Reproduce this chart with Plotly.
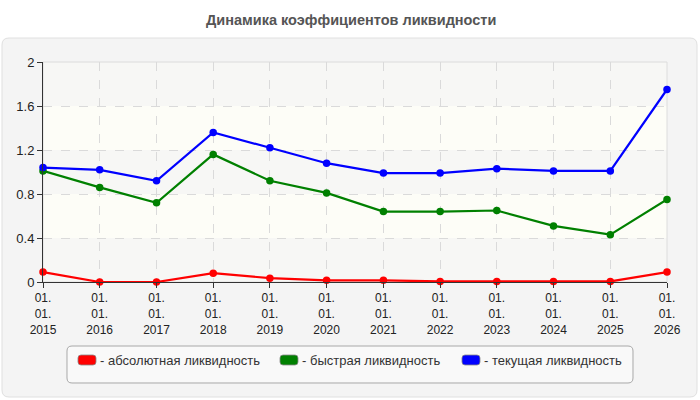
import plotly.graph_objects as go

years = [2015, 2016, 2017, 2018, 2019, 2020, 2021, 2022, 2023, 2024, 2025, 2026]
dates = [f"{y}-01-01" for y in years]
tick_labels = [f"01.<br>01.<br>{y}" for y in years]

absolute = [0.09, 0.0, 0.0, 0.08, 0.035, 0.015, 0.015, 0.005, 0.005, 0.005, 0.005, 0.09]
quick = [1.01, 0.86, 0.72, 1.16, 0.92, 0.81, 0.64, 0.64, 0.65, 0.51, 0.43, 0.75]
current = [1.04, 1.02, 0.92, 1.36, 1.22, 1.08, 0.99, 0.99, 1.03, 1.01, 1.01, 1.75]

names = ["- абсолютная ликвидность", "- быстрая ликвидность", "- текущая ликвидность"]
colors = ["#ff0000", "#008000", "#0000ff"]
series = [absolute, quick, current]

W, H = 700, 400
L, R, T, B = 43, 667, 62, 282

def fx(px):
    return (px - L) / (R - L)

def fy(py):
    return (B - py) / (B - T)

def rrect(x0, y0, x1, y1, r):
    def p(x, y):
        return f"{fx(x):.5f},{fy(y):.5f}"
    return (f"M{p(x0 + r, y0)} L{p(x1 - r, y0)} Q{p(x1, y0)} {p(x1, y0 + r)} "
            f"L{p(x1, y1 - r)} Q{p(x1, y1)} {p(x1 - r, y1)} L{p(x0 + r, y1)} "
            f"Q{p(x0, y1)} {p(x0, y1 - r)} L{p(x0, y0 + r)} Q{p(x0, y0)} {p(x0 + r, y0)} Z")

fig = go.Figure()
for vals, name, col in zip(series, names, colors):
    fig.add_trace(go.Scatter(
        x=dates, y=vals, mode="lines+markers", name=name,
        line=dict(color=col, width=2.2),
        marker=dict(color=col, size=7.5, symbol="circle"),
        showlegend=False, cliponaxis=False,
    ))

shapes = []
# outer panel
shapes.append(dict(type="path", xref="paper", yref="paper", path=rrect(2, 38, 697, 397, 7),
                   fillcolor="#f4f4f4", line=dict(color="#e0e0e0", width=1), layer="below"))
# background bands
bands = [(0, 0.4, "#f7f7f5"), (0.4, 0.8, "#fdfdf7"), (0.8, 1.2, "#f7f7f5"),
         (1.2, 1.6, "#fdfdf7"), (1.6, 2.0, "#f7f7f5")]
for y0, y1, c in bands:
    shapes.append(dict(type="rect", xref="paper", yref="y", x0=0, x1=1, y0=y0, y1=y1,
                       fillcolor=c, line=dict(width=0), layer="below"))
# plot border
shapes.append(dict(type="rect", xref="paper", yref="paper", x0=0, x1=1, y0=0, y1=1,
                   fillcolor="rgba(0,0,0,0)", line=dict(color="#dcdcdc", width=1), layer="below"))
# legend box
shapes.append(dict(type="path", xref="paper", yref="paper", path=rrect(67, 346, 633, 383, 5),
                   fillcolor="#f9f9f9", line=dict(color="#a8a8a8", width=1), layer="above"))

annotations = [dict(text="<b>Динамика коэффициентов ликвидности</b>", xref="paper", yref="paper",
                    x=fx(351), y=fy(20), xanchor="center", yanchor="middle", showarrow=False,
                    font=dict(family="Liberation Sans, Arial", size=14.5, color="#555555"))]

sw_x = [78, 280, 462]
for sx, name, col in zip(sw_x, names, colors):
    shapes.append(dict(type="path", xref="paper", yref="paper", path=rrect(sx, 355, sx + 18, 365, 3),
                       fillcolor=col, line=dict(color="#888888", width=0.8), layer="above"))
    annotations.append(dict(text=name, xref="paper", yref="paper", x=fx(sx + 20), y=fy(360),
                            xanchor="left", yanchor="middle", showarrow=False,
                            font=dict(family="Liberation Sans, Arial", size=13, color="#333333")))

fig.update_layout(
    width=W, height=H,
    margin=dict(l=L, r=W - R, t=T, b=H - B, pad=0),
    paper_bgcolor="white", plot_bgcolor="rgba(0,0,0,0)",
    shapes=shapes, annotations=annotations,
    font=dict(family="Liberation Sans, Arial", size=12.5, color="#222222"),
    showlegend=False,
)
fig.update_xaxes(
    type="date", range=[dates[0], dates[-1]],
    tickmode="array", tickvals=dates, ticktext=tick_labels,
    showgrid=True, gridcolor="#dadada", griddash="dash", gridwidth=1,
    showline=True, linecolor="#333333", linewidth=1,
    ticks="outside", ticklen=5, tickcolor="#333333", zeroline=False,
    tickfont=dict(size=12, color="#222222"), fixedrange=True,
)
fig.update_yaxes(
    range=[0, 2], tickmode="array", tickvals=[0, 0.4, 0.8, 1.2, 1.6, 2],
    ticktext=["0", "0.4", "0.8", "1.2", "1.6", "2"],
    showgrid=True, gridcolor="#dadada", griddash="dash", gridwidth=1,
    showline=True, linecolor="#333333", linewidth=1,
    ticks="outside", ticklen=5, tickcolor="#333333", zeroline=False,
    tickfont=dict(size=13, color="#222222"), fixedrange=True,
)

fig.write_html("out.html", config={"displayModeBar": False},
               post_script="document.body.style.margin='0';document.body.style.overflow='hidden';")
